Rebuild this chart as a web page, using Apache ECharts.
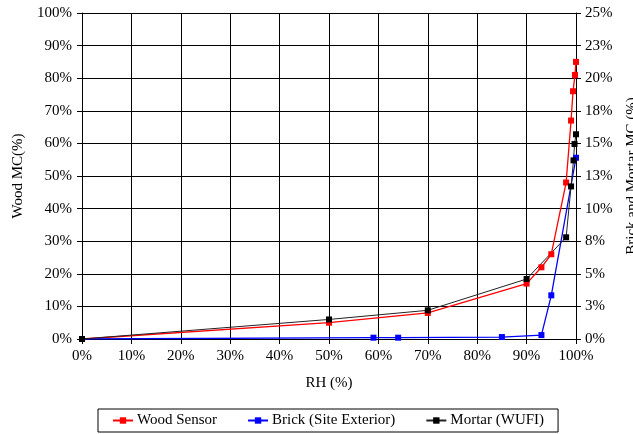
<!DOCTYPE html>
<html>
<head>
<meta charset="utf-8">
<script src="https://cdn.jsdelivr.net/npm/echarts@6/dist/echarts.min.js"></script>
<style>
  html, body { margin: 0; padding: 0; background: #fff; }
  #chart { width: 633px; height: 434px; }
</style>
</head>
<body>
<div id="chart"></div>
<script>
// RH (%) and moisture content
const woodRH = [0, 50, 70, 90, 93, 95, 98, 99, 99.4, 99.8, 100];
const woodMC = [0, 5, 8, 17, 22, 26, 48, 67, 76, 81, 85];

const brickRH = [0, 59, 64, 85, 93, 95, 100];
const brickMC = [0, 0.1, 0.1, 0.15, 0.3, 3.35, 13.9];

const mortarRH = [0, 50, 70, 90, 98, 99, 99.5, 99.7, 100];
const mortarMC = [0, 1.5, 2.2, 4.6, 7.8, 11.7, 13.7, 14.95, 15.7];

const seriesNames = ["Wood Sensor", "Brick (Site Exterior)", "Mortar (WUFI)"];

function pairs(xs, ys) {
  return xs.map((x, i) => [x, ys[i]]);
}

const font = "Liberation Serif";
const fs = 15;
const myChart = echarts.init(document.getElementById("chart"));

myChart.setOption({
  animation: false,
  textStyle: { fontFamily: font, color: "#000" },
  grid: { left: 82, right: 57, top: 13, bottom: 95, outerBoundsMode: "none", containLabel: false },
  legend: {
    data: seriesNames,
    left: 98,
    top: 409,
    padding: [4, 14, 4, 14],
    itemGap: 30,
    itemWidth: 20,
    itemHeight: 8,
    borderColor: "#000",
    borderWidth: 1,
    backgroundColor: "#fff",
    borderRadius: 0,
    textStyle: { fontFamily: font, fontSize: 15, color: "#000", padding: [0, 0, 0, -1] },
  },
  xAxis: {
    type: "value",
    min: 0,
    max: 100,
    interval: 10,
    name: "RH (%)",
    nameLocation: "middle",
    nameGap: 37,
    nameTextStyle: { fontFamily: font, fontSize: fs, color: "#000" },
    axisLine: { lineStyle: { color: "#000", width: 1 } },
    axisTick: { show: true, length: 5, lineStyle: { color: "#000" } },
    axisLabel: {
      formatter: (v) => v + "%",
      fontFamily: font,
      fontSize: fs,
      color: "#000",
      margin: 10,
    },
    splitLine: { show: true, lineStyle: { color: "#000", width: 1 } },
  },
  yAxis: [
    {
      type: "value",
      min: 0,
      max: 100,
      interval: 10,
      name: "Wood MC(%)",
      nameLocation: "middle",
      nameGap: 56,
      nameTextStyle: { fontFamily: font, fontSize: fs, color: "#000" },
      axisLine: { show: true, lineStyle: { color: "#000", width: 1 } },
      axisTick: { show: true, length: 5, lineStyle: { color: "#000" } },
      axisLabel: {
        formatter: (v) => v + "%",
        fontFamily: font,
        fontSize: fs,
        color: "#000",
        margin: 10,
      },
      splitLine: { show: true, lineStyle: { color: "#000", width: 1 } },
    },
    {
      type: "value",
      min: 0,
      max: 25,
      interval: 2.5,
      position: "right",
      name: "Brick and Mortar MC (%)",
      nameLocation: "middle",
      nameGap: 49,
      nameTextStyle: { fontFamily: font, fontSize: fs, color: "#000" },
      axisLine: { show: true, lineStyle: { color: "#000", width: 1 } },
      axisTick: { show: true, length: 5, lineStyle: { color: "#000" } },
      axisLabel: {
        formatter: (v) => Math.round(v) + "%",
        fontFamily: font,
        fontSize: fs,
        color: "#000",
        margin: 9,
      },
      splitLine: { show: false },
    },
  ],
  series: [
    {
      name: seriesNames[0],
      type: "line",
      yAxisIndex: 0,
      data: pairs(woodRH, woodMC),
      symbol: "rect",
      symbolSize: 6,
      color: "#ff0000",
      lineStyle: { color: "#ff0000", width: 1.3 },
      itemStyle: { color: "#ff0000" },
    },
    {
      name: seriesNames[1],
      type: "line",
      yAxisIndex: 1,
      data: pairs(brickRH, brickMC),
      symbol: "rect",
      symbolSize: 6,
      color: "#0000ff",
      lineStyle: { color: "#0000ff", width: 1.3 },
      itemStyle: { color: "#0000ff" },
    },
    {
      name: seriesNames[2],
      type: "line",
      yAxisIndex: 1,
      data: pairs(mortarRH, mortarMC),
      symbol: "rect",
      symbolSize: 6,
      color: "#000000",
      lineStyle: { color: "#222", width: 1 },
      itemStyle: { color: "#000" },
    },
  ],
});
</script>
</body>
</html>
